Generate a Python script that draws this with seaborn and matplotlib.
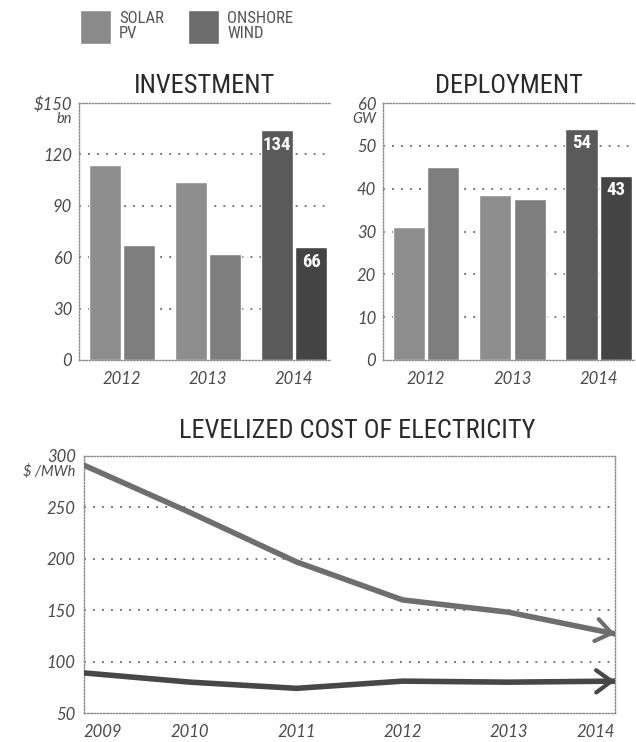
import numpy as np
import pandas as pd
import matplotlib
matplotlib.use('Agg')
import matplotlib.pyplot as plt
import seaborn as sns
from matplotlib.patches import Patch
from matplotlib import font_manager as fm

# ---------------- data ----------------
years_bar = ['2012', '2013', '2014']
techs = ['SOLAR PV', 'ONSHORE WIND']
investment_solar = [114, 104, 134]
investment_wind = [67, 62, 66]
deployment_solar = [31, 38.5, 54]
deployment_wind = [45, 37.5, 43]
inv_ticks = [0, 30, 60, 90, 120, 150]
inv_ticklabels = ['0', '30', '60', '90', '120', r'\$150']
dep_ticks = [0, 10, 20, 30, 40, 50, 60]
dep_ticklabels = ['0', '10', '20', '30', '40', '50', '60']

years_line = [2009, 2010, 2011, 2012, 2013, 2014]
lcoe_solar = [291, 245, 197, 160, 148, 127]
lcoe_wind = [89, 80, 74, 81, 80, 81]
lcoe_ticks = [50, 100, 150, 200, 250, 300]
lcoe_ticklabels = ['50', '100', '150', '200', '250', '300']

# ---------------- style ----------------
SOLAR, WIND = '#8e8e8e', '#7e7e7e'
SOLAR_HI, WIND_HI = '#5a5a5a', '#444444'
LEG_SOLAR, LEG_WIND = '#8a8a8a', '#6c6c6c'
LINE_SOLAR, LINE_WIND = '#6e6e6e', '#474747'
TXT = '#4a4a4a'
SPINE_LS = (0, (1, 1.3))
GRID_LS = (0, (1, 4))

sns.set_theme(style='white')

# pick a narrow font if one is installed
_entries = fm.fontManager.ttflist
_names = {f.name for f in _entries}
FAMILY = 'DejaVu Sans'
STRETCH = 'normal'
for cand in ['Liberation Sans Narrow', 'Roboto Condensed', 'Open Sans Condensed',
             'Noto Sans Condensed', 'DejaVu Sans Condensed']:
    if cand in _names:
        FAMILY = cand
        break
else:
    cond = [f for f in _entries if f.name in ('DejaVu Sans', 'Noto Sans', 'Open Sans', 'Roboto')
            and str(f.stretch) in ('condensed', 'semi-condensed', '75', '87', '62')]
    if cond:
        FAMILY = cond[0].name
        STRETCH = 'condensed'
plt.rcParams['font.family'] = [FAMILY, 'DejaVu Sans']
plt.rcParams['font.stretch'] = STRETCH
TICK_FAMILY = ['Lato', 'Open Sans', 'DejaVu Sans']
TICK_KW = dict(family=TICK_FAMILY, style='italic', weight='normal', stretch='normal')

fig = plt.figure(figsize=(6.36, 7.42), dpi=100)
W, H = 636, 742


def px_axes(l, t, r, b):
    return fig.add_axes([l / W, 1 - b / H, (r - l) / W, (b - t) / H])


def style_spines(ax, sides):
    for s, sp in ax.spines.items():
        if s in sides:
            sp.set_visible(True)
            sp.set_linestyle(SPINE_LS)
            sp.set_color('#8a8a8a')
            sp.set_linewidth(1.0)
        else:
            sp.set_visible(False)


def style_ticklabels(ax):
    for lab in ax.get_xticklabels() + ax.get_yticklabels():
        lab.set_fontfamily(TICK_FAMILY)
        lab.set_fontstyle('italic')
        lab.set_fontweight('normal')
        lab.set_fontstretch('normal')


def bar_panel(ax, solar, wind, ticks, ticklabels, unit, title):
    df = pd.DataFrame({
        'year': years_bar * 2,
        'tech': [techs[0]] * len(years_bar) + [techs[1]] * len(years_bar),
        'value': list(solar) + list(wind),
    })
    sns.barplot(data=df, x='year', y='value', hue='tech', order=years_bar,
                hue_order=techs, palette=[SOLAR, WIND], width=0.8, gap=0.07,
                saturation=1, legend=False, ax=ax, zorder=2)
    for cont, hi in zip(ax.containers, [SOLAR_HI, WIND_HI]):
        cont.patches[-1].set_facecolor(hi)
        vals = cont.datavalues
        labels = [''] * (len(vals) - 1) + [f'{vals[-1]:.0f}']
        ax.bar_label(cont, labels=labels, padding=-17, color='white',
                     fontsize=13.5, fontweight='bold', zorder=3)
    ax.set_ylim(ticks[0], ticks[-1])
    ax.set_xlim(-0.5, 2.42)
    for t in ticks[1:-1]:
        ax.axhline(t, ls=GRID_LS, color='#666666', lw=1.3, zorder=0)
    ax.set_yticks(ticks)
    ax.set_yticklabels(ticklabels)
    ax.set_xlabel('')
    ax.set_ylabel('')
    ax.tick_params(axis='y', length=0, pad=5, labelsize=12, labelcolor=TXT)
    ax.tick_params(axis='x', length=0, pad=8, labelsize=12, labelcolor=TXT)
    style_ticklabels(ax)
    ax.annotate(unit, xy=(0, ticks[-1]), xycoords=ax.get_yaxis_transform(),
                xytext=(-5, -11.5), textcoords='offset points', ha='right',
                va='center', fontsize=10.5, color=TXT, **TICK_KW)
    ax.set_title(title, fontsize=19, color='#2a2a2a', pad=7)
    style_spines(ax, ['left', 'top', 'bottom'])


ax1 = px_axes(79, 103, 330, 360)
bar_panel(ax1, investment_solar, investment_wind, inv_ticks, inv_ticklabels,
          'bn', 'INVESTMENT')
ax2 = px_axes(383, 103, 635, 360)
bar_panel(ax2, deployment_solar, deployment_wind, dep_ticks, dep_ticklabels,
          'GW', 'DEPLOYMENT')

# ---------------- line chart ----------------
ax3 = px_axes(84, 456, 615, 713)
ldf = pd.DataFrame({
    'year': years_line * 2,
    'tech': [techs[0]] * len(years_line) + [techs[1]] * len(years_line),
    'cost': lcoe_solar + lcoe_wind,
})
sns.lineplot(data=ldf, x='year', y='cost', hue='tech', hue_order=techs,
             palette=[LINE_SOLAR, LINE_WIND], lw=4, legend=False, ax=ax3,
             zorder=3)
for ys, col in [(lcoe_solar, LINE_SOLAR), (lcoe_wind, LINE_WIND)]:
    x1, x0 = years_line[-1], years_line[-2]
    y1, y0 = ys[-1], ys[-2]
    f = 0.12
    ax3.annotate('', xy=(x1, y1), xytext=(x1 - f * (x1 - x0), y1 - f * (y1 - y0)),
                 arrowprops=dict(arrowstyle='->,head_length=0.55,head_width=0.4',
                                 lw=3, color=col, shrinkA=0, shrinkB=0,
                                 mutation_scale=20),
                 zorder=4, annotation_clip=False)
ax3.set_xlim(years_line[0], years_line[-1])
ax3.set_ylim(lcoe_ticks[0], lcoe_ticks[-1])
for t in lcoe_ticks[1:-1]:
    ax3.axhline(t, ls=GRID_LS, color='#666666', lw=1.3, zorder=0)
ax3.set_yticks(lcoe_ticks)
ax3.set_yticklabels(lcoe_ticklabels)
ax3.set_xticks(years_line)
ax3.set_xticklabels([str(y) for y in years_line])
ax3.set_xlabel('')
ax3.set_ylabel('')
ax3.tick_params(axis='y', length=0, pad=6, labelsize=12, labelcolor=TXT)
ax3.tick_params(axis='x', length=0, pad=8, labelsize=12, labelcolor=TXT)
style_ticklabels(ax3)
xl = ax3.get_xticklabels()
xl[0].set_horizontalalignment('left')
xl[-1].set_horizontalalignment('right')
ax3.annotate(r'\$ /MWh', xy=(0, lcoe_ticks[-1]), xycoords=ax3.get_yaxis_transform(),
             xytext=(-6, -11.5), textcoords='offset points', ha='right',
             va='center', fontsize=10.5, color=TXT, **TICK_KW)
ax3.set_title('LEVELIZED COST OF ELECTRICITY', fontsize=19, color='#2a2a2a',
              pad=13, x=0.514)
style_spines(ax3, ['left', 'top', 'bottom', 'right'])

# ---------------- legend ----------------
leg = fig.legend(handles=[Patch(facecolor=LEG_SOLAR), Patch(facecolor=LEG_WIND)],
                 labels=['SOLAR\nPV', 'ONSHORE\nWIND'], loc='upper left',
                 bbox_to_anchor=(80 / W, 1 - 10 / H), ncol=2, frameon=False,
                 fontsize=12, handlelength=1.85, handleheight=2.75,
                 handletextpad=0.5, columnspacing=1.45, borderpad=0,
                 borderaxespad=0, labelcolor='#555555')
for t in leg.get_texts():
    t.set_linespacing(0.95)

fig.savefig('out.png', dpi=100, facecolor='white')
